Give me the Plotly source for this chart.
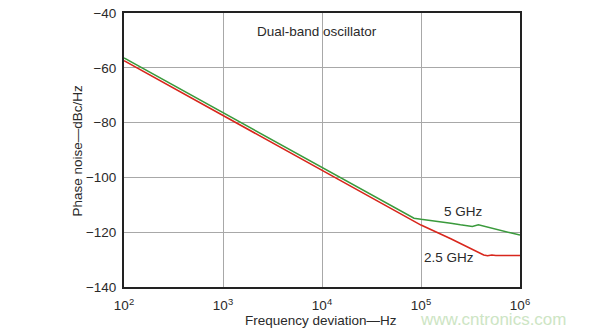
import plotly.graph_objects as go

# Phase noise of the dual-band oscillator, dBc/Hz vs. offset frequency (Hz)
freq_5ghz = [1e2, 1e3, 1e4, 5e4, 8.5e4, 1e5, 1.5e5, 2e5, 2.5e5, 3.3e5, 3.8e5, 4.3e5, 5e5, 6e5, 8e5, 1e6]
noise_5ghz = [-56.4, -76.4, -96.4, -110.3, -114.9, -115.3, -116.0, -116.7, -117.3, -117.9, -117.3, -117.8,
              -118.5, -119.2, -120.2, -121.0]

freq_2g5 = [1e2, 1e3, 1e4, 5e4, 1e5, 2e5, 3e5, 4.3e5, 4.7e5, 5.2e5, 5.7e5, 7e5, 1e6]
noise_2g5 = [-57.4, -77.4, -97.4, -111.3, -117.4, -122.4, -125.4, -128.3, -128.6, -128.3, -128.5, -128.5, -128.5]

x_tickvals = [1e2, 1e3, 1e4, 1e5, 1e6]
x_ticktext = ["10<sup>2</sup>", "10<sup>3</sup>", "10<sup>4</sup>", "10<sup>5</sup>", "10<sup>6</sup>"]
y_tickvals = [-40, -60, -80, -100, -120, -140]
y_ticktext = ["\u221240", "\u221260", "\u221280", "\u2212100", "\u2212120", "\u2212140"]

FONT = "Liberation Sans, Arial, sans-serif"
TEXT = "#2a2a2a"

fig = go.Figure()
fig.add_trace(go.Scatter(x=freq_2g5, y=noise_2g5, mode="lines",
                         line=dict(color="#d8261c", width=1.6), name="2.5 GHz"))
fig.add_trace(go.Scatter(x=freq_5ghz, y=noise_5ghz, mode="lines",
                         line=dict(color="#3a9a3c", width=1.5), name="5 GHz"))

fig.update_layout(
    width=595, height=332,
    margin=dict(l=124, r=75, t=6, b=45),
    paper_bgcolor="white", plot_bgcolor="white",
    showlegend=False,
    font=dict(family=FONT, size=13.5, color=TEXT),
    xaxis=dict(
        type="log", range=[2, 6],
        tickvals=x_tickvals, ticktext=x_ticktext,
        showgrid=True, gridcolor="#a8a8a8", gridwidth=1,
        showline=True, linecolor="#222", linewidth=2, mirror=True,
        ticks="", ticklabelstandoff=5, zeroline=False,
        tickfont=dict(size=13.5, color=TEXT),
    ),
    yaxis=dict(
        range=[-140, -40],
        tickvals=y_tickvals, ticktext=y_ticktext,
        showgrid=True, gridcolor="#a8a8a8", gridwidth=1,
        showline=True, linecolor="#222", linewidth=2, mirror=True,
        ticks="", ticklabelstandoff=3, zeroline=False,
        tickfont=dict(size=13.5, color=TEXT),
    ),
)

# text placed by page pixel position (x, y, text, size, colour, angle)
labels = [
    (321, 321, "Frequency deviation\u2014Hz", 13.5, TEXT, 0),
    (77, 147, "Phase noise\u2014dBc/Hz", 13.5, TEXT, -90),
    (317, 25, "Dual-band oscillator", 13.5, TEXT, 0),
    (463, 210, "5 GHz", 13.5, TEXT, 0),
    (449, 257, "2.5 GHz", 13.5, TEXT, 0),
    (493, 320, "www.cntronics.com", 17, "#cde5c4", 0),
]

# convert page pixels to paper coordinates of the plot area
pl, pr, pt, pb = 124, 520, 6, 287
for px, py, txt, size, color, angle in labels:
    fig.add_annotation(
        x=(px - pl) / (pr - pl), y=(pb - py) / (pb - pt),
        xref="paper", yref="paper", xanchor="center", yanchor="middle",
        text=txt, showarrow=False, textangle=angle,
        font=dict(family=FONT, size=size, color=color),
    )

fig.write_html("out.html")
